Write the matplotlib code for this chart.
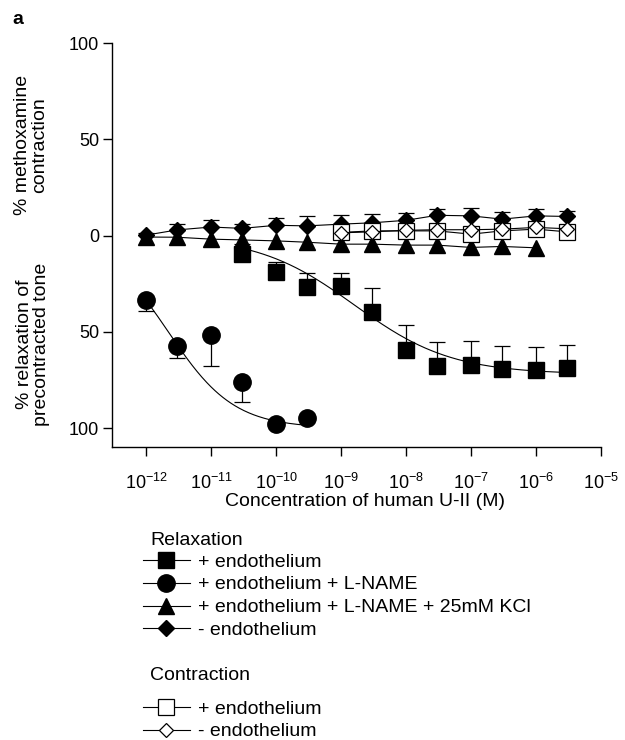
import numpy as np
import matplotlib
matplotlib.use("Agg")
import matplotlib.pyplot as plt
from matplotlib.lines import Line2D

plt.rcParams["font.family"] = ["Liberation Sans", "DejaVu Sans"]
plt.rcParams["mathtext.fontset"] = "custom"
plt.rcParams["mathtext.rm"] = "Liberation Sans"
plt.rcParams["mathtext.it"] = "Liberation Sans"

# concentrations (M)
conc_all = [1e-12, 3e-12, 1e-11, 3e-11, 1e-10, 3e-10, 1e-9, 3e-9,
            1e-8, 3e-8, 1e-7, 3e-7, 1e-6, 3e-6]

# relaxation, + endothelium (filled squares); relaxation plotted negative
sq_x = [3e-11, 1e-10, 3e-10, 1e-9, 3e-9, 1e-8, 3e-8, 1e-7, 3e-7, 1e-6, 3e-6]
sq_y = [-9.5, -18.8, -26.7, -26.2, -39.6, -59.3, -67.6, -67.1, -69.2, -69.7, -68.7]
sq_err = [5.0, 5.0, 7.3, 6.8, 12.4, 13.0, 12.4, 12.4, 12.0, 12.0, 12.0]

# relaxation, + endothelium + L-NAME (filled circles)
ci_x = [1e-12, 3e-12, 1e-11, 3e-11, 1e-10, 3e-10]
ci_y = [-33.4, -57.3, -51.6, -75.9, -97.7, -94.6]
ci_err = [6.0, 6.2, 16.0, 10.4, 0.0, 0.0]

# relaxation, + endothelium + L-NAME + 25mM KCl (filled triangles)
tr_x = [1e-12, 3e-12, 1e-11, 3e-11, 1e-10, 3e-10, 1e-9, 3e-9, 1e-8, 3e-8, 1e-7, 3e-7, 1e-6]
tr_y = [-0.7, -0.8, -1.8, -2.2, -2.7, -3.4, -4.4, -4.4, -4.9, -4.9, -6.1, -5.6, -6.3]

# relaxation, - endothelium (filled diamonds)
di_x = conc_all
di_y = [0.3, 3.0, 4.5, 3.8, 5.4, 5.1, 6.0, 6.7, 8.0, 10.6, 10.3, 8.6, 10.3, 10.0]
di_err = [1.0, 3.0, 3.5, 2.2, 4.0, 5.0, 4.8, 4.5, 4.0, 3.5, 3.9, 3.6, 3.4, 2.8]

# contraction, + endothelium (open squares) and - endothelium (open diamonds)
con_x = [1e-9, 3e-9, 1e-8, 3e-8, 1e-7, 3e-7, 1e-6, 3e-6]
osq_y = [1.7, 2.5, 2.5, 2.5, 0.8, 2.5, 3.4, 2.0]
odi_y = [1.5, 2.0, 2.8, 3.1, 3.1, 3.4, 4.3, 3.6]

# fitted curve parameters (bottom, EC50, Hill slope)
sq_fit = (-72.0, 1.6e-9, 0.58)
ci_fit = (-100.0, 2.2e-12, 0.86)

x_ticks = [1e-12, 1e-11, 1e-10, 1e-9, 1e-8, 1e-7, 1e-6, 1e-5]
x_ticklabels = [r"$\mathregular{10^{-12}}$", r"$\mathregular{10^{-11}}$",
                r"$\mathregular{10^{-10}}$", r"$\mathregular{10^{-9}}$",
                r"$\mathregular{10^{-8}}$", r"$\mathregular{10^{-7}}$",
                r"$\mathregular{10^{-6}}$", r"$\mathregular{10^{-5}}$"]
y_ticks = [100, 50, 0, -50, -100]
y_ticklabels = ["100", "50", "0", "50", "100"]


def hill(x, bottom, ec50, n):
    return bottom / (1 + (ec50 / x) ** n)


def err_up(ax, x, y, e):
    x = np.array(x)
    y = np.array(y)
    e = np.array(e)
    ax.vlines(x, y, y + e, color="k", lw=0.9, zorder=2)
    ax.plot(x, y + e, ls="none", marker="_", ms=12, mew=0.9, color="k", zorder=2)


fig = plt.figure(figsize=(6.25, 7.4), dpi=100)
ax = fig.add_axes([0.1797, 0.3955, 0.782, 0.546])

lw = 0.8

# error bars
err_up(ax, sq_x, sq_y, sq_err)
err_up(ax, ci_x, ci_y, -np.array(ci_err))
err_up(ax, di_x, di_y, di_err)

# fitted curves
xs = np.logspace(np.log10(sq_x[0]), np.log10(sq_x[-1]), 200)
ax.plot(xs, hill(xs, *sq_fit), color="k", lw=lw, zorder=3)
xc = np.logspace(np.log10(ci_x[0]), np.log10(ci_x[-1]), 200)
ax.plot(xc, hill(xc, *ci_fit), color="k", lw=lw, zorder=3)

# series
ax.plot(tr_x, tr_y, color="k", lw=lw, marker="^", ms=11, mfc="k", mec="k", zorder=4)
ax.plot(di_x, di_y, color="k", lw=lw, marker="D", ms=8, mfc="k", mec="k", zorder=4)
ax.plot(sq_x, sq_y, ls="none", marker="s", ms=12, mfc="k", mec="k", zorder=5)
ax.plot(ci_x, ci_y, ls="none", marker="o", ms=12.5, mfc="k", mec="k", zorder=5)
ax.plot(con_x, osq_y, color="k", lw=lw, marker="s", ms=12, mfc="white", mec="k", mew=0.9, zorder=6)
ax.plot(con_x, odi_y, color="k", lw=lw, marker="D", ms=7.5, mfc="white", mec="k", mew=0.9, zorder=7)

ax.set_xscale("log")
ax.set_xlim(10 ** -12.52, 1e-5)
ax.set_ylim(-110, 100)
ax.set_xticks(x_ticks)
ax.set_xticklabels(x_ticklabels)
ax.xaxis.set_minor_locator(matplotlib.ticker.NullLocator())
ax.set_yticks(y_ticks)
ax.set_yticklabels(y_ticklabels)
for s in ["top", "right"]:
    ax.spines[s].set_visible(False)
for s in ["left", "bottom"]:
    ax.spines[s].set_linewidth(1.0)
ax.tick_params(axis="both", direction="out", length=6.5, width=1.0, labelsize=13)
ax.tick_params(axis="x", pad=12)
ax.tick_params(axis="y", pad=3)

fig.text(365 / 625, 1 - 501 / 740, "Concentration of human U-II (M)",
         ha="center", va="center", fontsize=14)
fig.text(31 / 625, 1 - 145 / 740, "% methoxamine\ncontraction", rotation=90,
         ha="center", va="center", multialignment="center", fontsize=14, linespacing=1.0)
fig.text(33 / 625, 1 - 344 / 740, "% relaxation of\nprecontracted tone", rotation=90,
         ha="center", va="center", multialignment="center", fontsize=14, linespacing=1.0)
fig.text(18 / 625, 1 - 20 / 740, "a", ha="center", va="center", fontsize=14, fontweight="bold")

# legends
rel_labels = ["+ endothelium", "+ endothelium + L-NAME",
              "+ endothelium + L-NAME + 25mM KCl", "- endothelium"]
con_labels = ["+ endothelium", "- endothelium"]
rel_handles = [
    Line2D([], [], color="k", lw=lw, marker="s", ms=12, mfc="k"),
    Line2D([], [], color="k", lw=lw, marker="o", ms=12.5, mfc="k"),
    Line2D([], [], color="k", lw=lw, marker="^", ms=11, mfc="k"),
    Line2D([], [], color="k", lw=lw, marker="D", ms=8, mfc="k"),
]
con_handles = [
    Line2D([], [], color="k", lw=lw, marker="s", ms=12, mfc="white", mew=0.9),
    Line2D([], [], color="k", lw=lw, marker="D", ms=7.5, mfc="white", mew=0.9),
]
leg_kw = dict(loc="upper left", frameon=False, fontsize=14, numpoints=1,
              handlelength=2.4, handletextpad=0.41, labelspacing=0.27,
              borderpad=0, borderaxespad=0)
fig.legend(rel_handles, rel_labels, bbox_to_anchor=(143 / 625, 1 - 553 / 740), **leg_kw)
fig.legend(con_handles, con_labels, bbox_to_anchor=(143 / 625, 1 - 700 / 740), **leg_kw)
fig.text(150 / 625, 1 - 540.5 / 740, "Relaxation", ha="left", va="center", fontsize=14)
fig.text(150 / 625, 1 - 675 / 740, "Contraction", ha="left", va="center", fontsize=14)

fig.savefig("out.png", dpi=100)
